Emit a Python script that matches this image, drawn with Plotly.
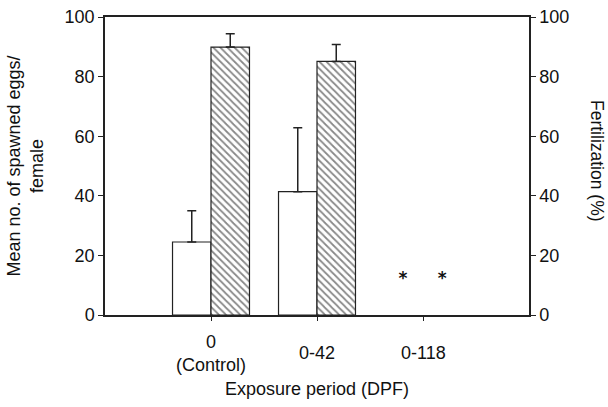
import plotly.graph_objects as go

categories = ["0<br>(Control)", "0-42", "0-118"]
eggs_mean = [24.5, 41.4, None]
eggs_err = [10.5, 21.4, None]
fert_mean = [89.9, 85.1, None]
fert_err = [4.5, 5.7, None]
star_y = [11.8, 11.8]
star_x = [1.81, 2.18]
ticks = [0, 20, 40, 60, 80, 100]

xs = list(range(len(categories)))
W = 0.363
x_left = [x - W / 2 for x in xs]
x_right = [x + W / 2 for x in xs]
line_c = "#222222"
FONT = "Liberation Sans, Arial, sans-serif"
font = dict(family=FONT, size=18, color="#111111")

fig = go.Figure()
fig.add_trace(go.Bar(
    x=x_left, y=eggs_mean, width=W,
    marker=dict(color="white", line=dict(color=line_c, width=1.2)),
    error_y=dict(type="data", array=eggs_err, arrayminus=[0, 0, 0], symmetric=False,
                 color=line_c, thickness=1.5, width=4.5),
    yaxis="y", showlegend=False))
fig.add_trace(go.Bar(
    x=x_right, y=fert_mean, width=W,
    marker=dict(color="white", line=dict(color=line_c, width=1.2),
                pattern=dict(shape="\\", fgcolor="#111111", bgcolor="white", size=5, solidity=0.35)),
    error_y=dict(type="data", array=fert_err, arrayminus=[0, 0, 0], symmetric=False,
                 color=line_c, thickness=1.5, width=4.5),
    yaxis="y2", showlegend=False))
fig.add_trace(go.Scatter(
    x=star_x, y=star_y, mode="text", text=["<b>*</b>", "<b>*</b>"],
    textfont=dict(family="DejaVu Sans, sans-serif", size=17, color="#111111"),
    yaxis="y", showlegend=False))

fig.update_layout(
    width=608, height=407,
    margin=dict(l=105, r=79, t=17, b=92),
    paper_bgcolor="white", plot_bgcolor="white",
    font=font,
    barmode="overlay",
    xaxis=dict(range=[-1, 3], tickvals=xs, showticklabels=False, automargin=False,
               showline=True, linecolor=line_c, linewidth=1.5, mirror=True,
               ticks="outside", ticklen=4, tickcolor=line_c, showgrid=False, zeroline=False),
    yaxis=dict(range=[0, 100], tickvals=ticks, showline=True, linecolor=line_c, linewidth=1.5,
               automargin=False, ticklabeloverflow="allow",
               ticks="outside", ticklen=5, tickcolor=line_c, showgrid=False, zeroline=False,
               title=dict(text="Mean no. of spawned eggs/<br>female", font=font, standoff=16)),
    yaxis2=dict(range=[0, 100], tickvals=ticks, overlaying="y", side="right",
                showline=True, linecolor=line_c, linewidth=1.5, automargin=False,
                ticklabeloverflow="allow",
                ticks="outside", ticklen=5, tickcolor=line_c, showgrid=False, zeroline=False),
)

# right-hand axis title, reading top to bottom
fig.add_annotation(x=1, xref="paper", xshift=68, y=0.5, yref="paper", yshift=5,
                   text="Fertilization (%)", textangle=90, showarrow=False,
                   font=dict(family=FONT, size=17.5, color="#111111"),
                   xanchor="center", yanchor="middle")

# category labels under the axis, vertically centred like the original
for x, label in zip(xs, categories):
    fig.add_annotation(x=x, xref="x", y=0, yref="paper", yshift=-38,
                       text=label, showarrow=False, font=font, yanchor="middle",
                       xanchor="center")
fig.add_annotation(x=0.5, xref="paper", y=0, yref="paper", yshift=-74,
                   text="Exposure period (DPF)", showarrow=False, font=font,
                   yanchor="middle", xanchor="center")

fig.write_html("out.html", config={"displayModeBar": False},
               post_script="document.body.style.margin='0';document.body.style.overflow='hidden';")
